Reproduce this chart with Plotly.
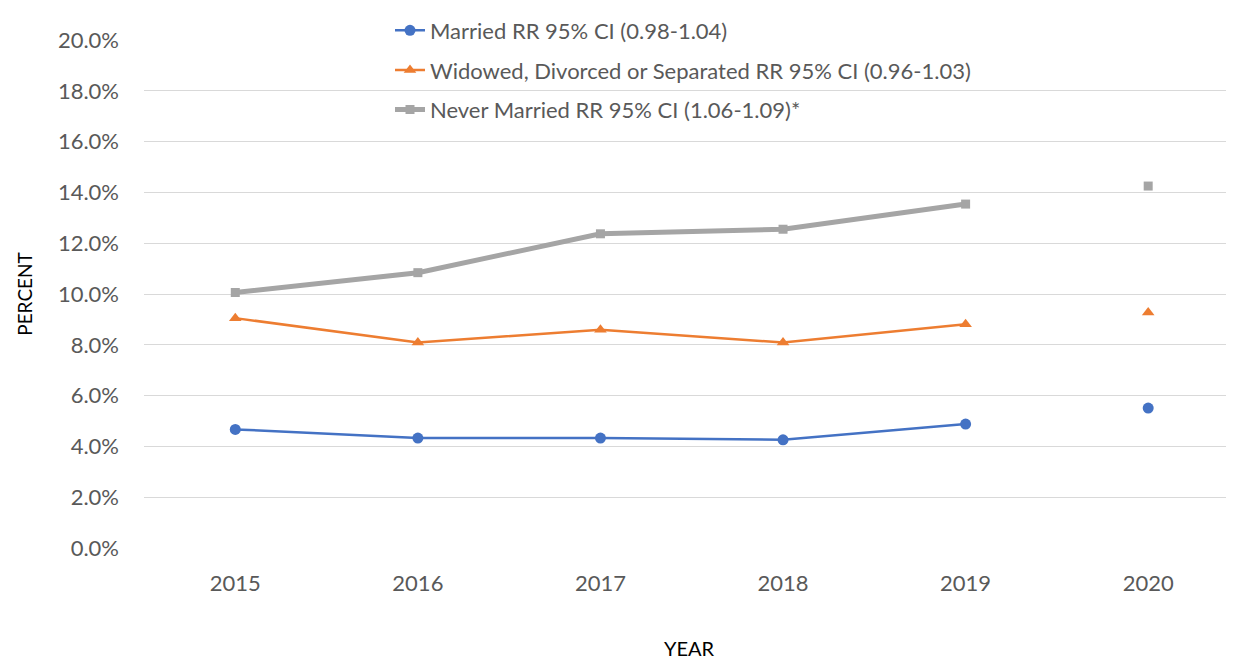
import plotly.graph_objects as go

years = ["2015", "2016", "2017", "2018", "2019", "2020"]

married = [4.67, 4.33, 4.33, 4.26, 4.88, 5.51]
widowed = [9.05, 8.09, 8.59, 8.09, 8.81, 9.27]
never_married = [10.06, 10.84, 12.37, 12.55, 13.54, 14.25]

names = [
    "Married RR 95% CI (0.98-1.04)",
    "Widowed, Divorced or Separated RR 95% CI (0.96-1.03)",
    "Never Married RR 95% CI (1.06-1.09)*",
]
y_ticks = [0, 2, 4, 6, 8, 10, 12, 14, 16, 18, 20]

series = [
    (married, "#4472C4", "circle", 11, 2.5),
    (widowed, "#ED7D31", "triangle-up", 11, 2.5),
    (never_married, "#A5A5A5", "square", 9, 5),
]

fig = go.Figure()

for i, (vals, color, symbol, msize, lw) in enumerate(series):
    grp = "g%d" % i
    # 2015-2019 are joined by a line, 2020 stands alone
    fig.add_trace(go.Scatter(x=years[:5], y=vals[:5], mode="lines+markers",
                             name=names[i], legendgroup=grp,
                             line=dict(color=color, width=lw),
                             marker=dict(symbol=symbol, size=msize, color=color)))
    fig.add_trace(go.Scatter(x=years[5:], y=vals[5:], mode="markers",
                             name=names[i], legendgroup=grp, showlegend=False,
                             marker=dict(symbol=symbol, size=msize, color=color)))

# page body has an 8px margin, so the figure is a little smaller than the window
fig.update_layout(
    width=1226, height=654,
    margin=dict(l=136, r=0, t=32, b=114),
    plot_bgcolor="#ffffff", paper_bgcolor="#ffffff",
    font=dict(family="Lato, Open Sans, sans-serif", color="#595959", size=22),
    showlegend=True,
    legend=dict(x=(382 - 136) / 1090, y=1.06, xanchor="left", yanchor="top",
                bgcolor="rgba(0,0,0,0)", font=dict(size=22, color="#595959"),
                tracegroupgap=8, itemwidth=30),
)

fig.update_xaxes(type="category", range=[-0.5, 5.47], showgrid=False,
                 showline=False, ticks="", tickfont=dict(size=22, color="#595959"),
                 ticklabelstandoff=20,
                 title=dict(text="YEAR", font=dict(size=20, color="#000000"), standoff=46))
fig.update_yaxes(range=[0, 20], tickvals=y_ticks,
                 ticktext=["%.1f%%" % v for v in y_ticks],
                 showgrid=True, gridcolor="#D9D9D9", gridwidth=1.3,
                 zeroline=False, showline=False, ticks="",
                 tickfont=dict(size=22, color="#595959"), ticklabelstandoff=24,
                 title=dict(text="PERCENT", font=dict(size=19, color="#000000"), standoff=20))

fig.write_html("out.html")
